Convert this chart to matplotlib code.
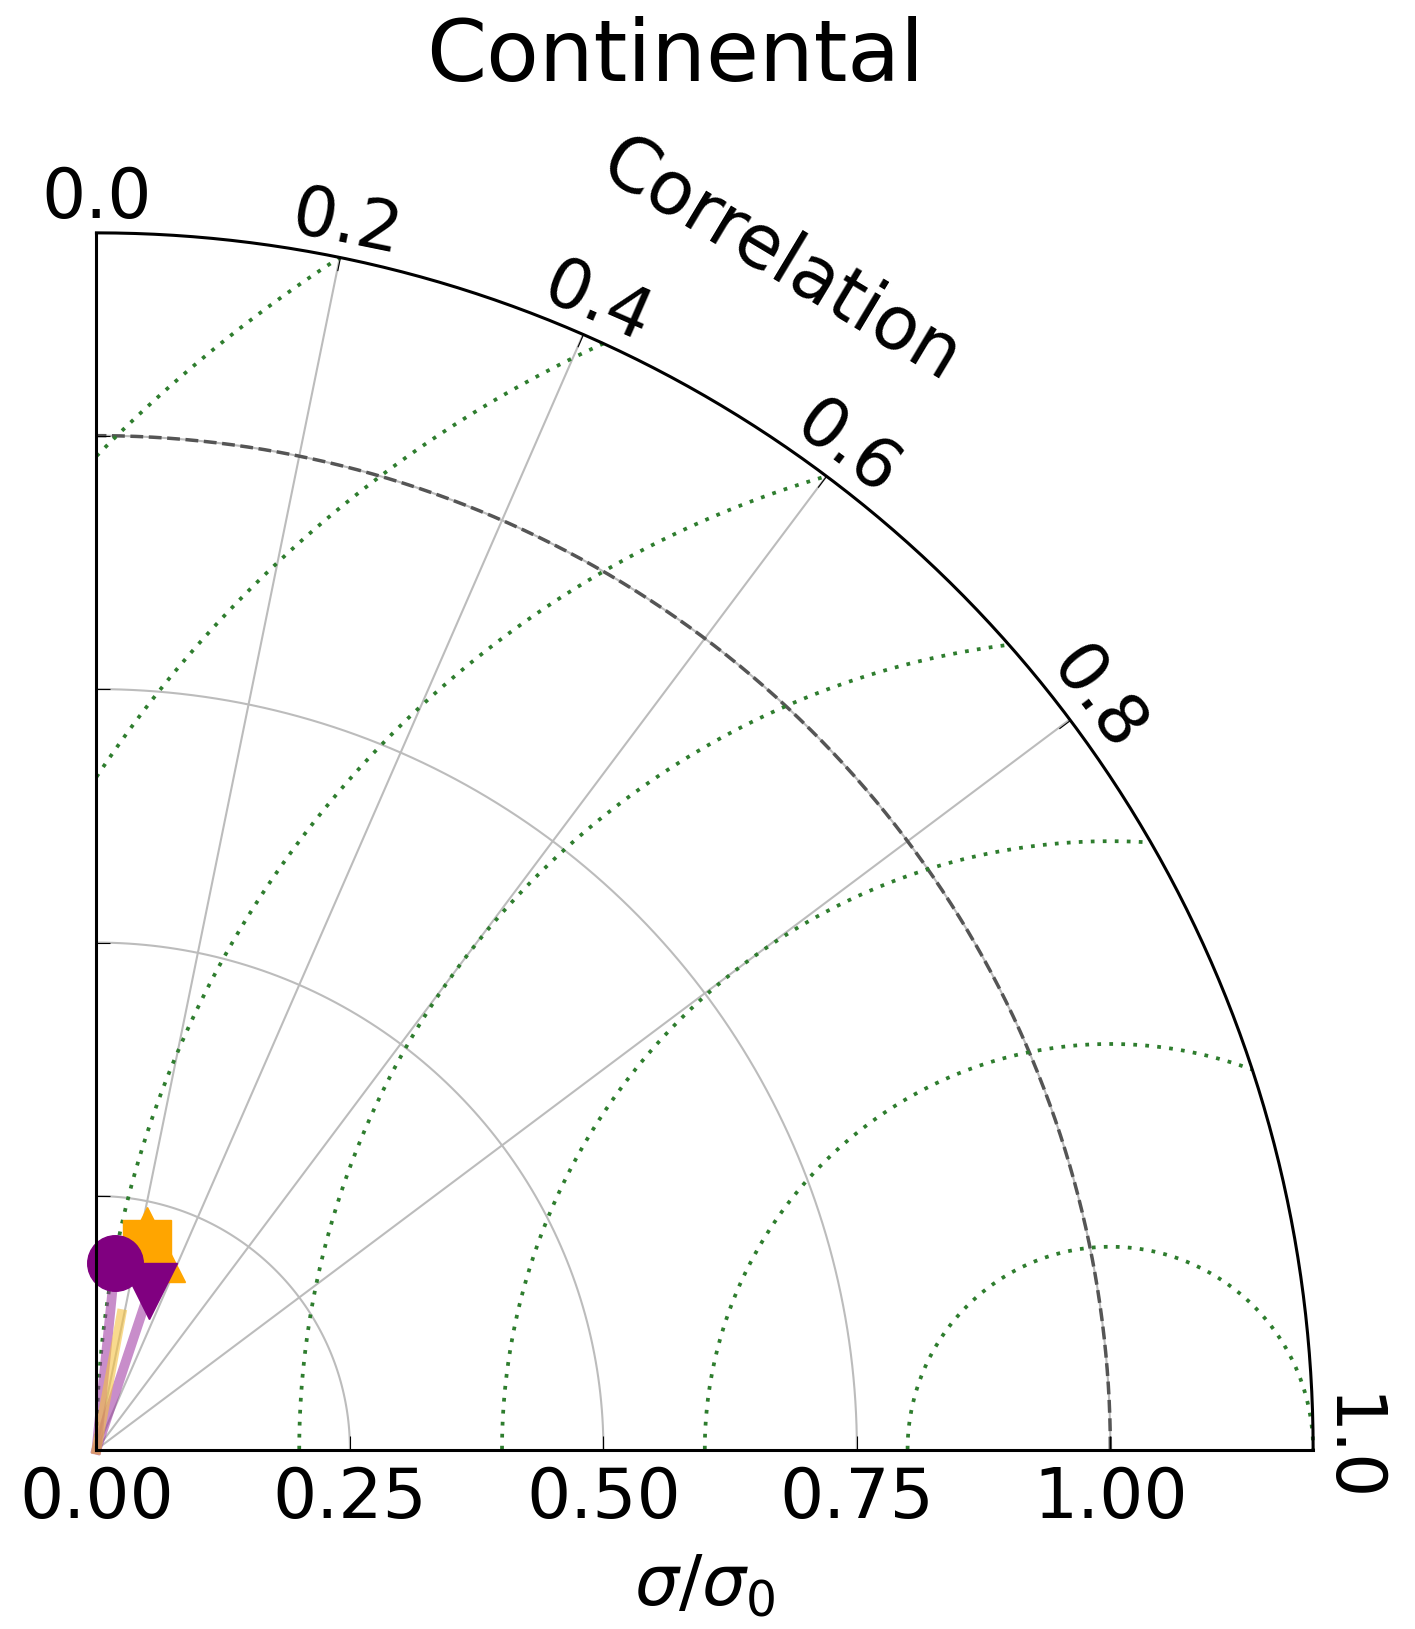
"""Taylor diagram: Continental, std ratio vs correlation."""

import matplotlib

matplotlib.use("Agg")
import matplotlib.pyplot as plt
import mpl_toolkits.axisartist.floating_axes as FA
import mpl_toolkits.axisartist.grid_finder as GF
import numpy as np
from matplotlib.projections import PolarAxes

TITLE = "Continental"
SMAX = 1.2
REF_STD = 1.0
CORR_TICKS = [0.0, 0.2, 0.4, 0.6, 0.8, 1.0]
STD_TICKS = [0.0, 0.25, 0.5, 0.75, 1.0]
RMS_LEVELS = [0.2, 0.4, 0.6, 0.8, 1.0, 1.2, 1.4]

# model points (normalised std, correlation)
purple_std = [0.185, 0.165]
purple_corr = [0.10, 0.316]
orange_std = [0.209]
orange_corr = [0.24]

FS = 50


def main():
    fig = plt.figure(figsize=(14.15, 16.29), dpi=100)

    tr = PolarAxes.PolarTransform(apply_theta_transforms=False)
    tlocs = np.arccos(CORR_TICKS)
    gh = FA.GridHelperCurveLinear(
        tr,
        extremes=(0, np.pi / 2, 0, SMAX),
        grid_locator1=GF.FixedLocator(tlocs),
        tick_formatter1=GF.DictFormatter({t: f"{c:.1f}" for t, c in zip(tlocs, CORR_TICKS)}),
        grid_locator2=GF.FixedLocator(STD_TICKS),
        tick_formatter2=GF.DictFormatter({s: f"{s:.2f}" for s in STD_TICKS}),
    )
    ax = FA.FloatingAxes(fig, [84.3 / 1415, 167.3 / 1629, 1241 / 1415, 1241 / 1629], grid_helper=gh)
    fig.add_axes(ax)

    # correlation arc
    ax.axis["top"].set_axis_direction("bottom")
    ax.axis["top"].toggle(ticklabels=True, label=False)
    ax.axis["top"].major_ticklabels.set_axis_direction("top")
    ax.axis["top"].major_ticklabels.set_fontsize(FS)
    ax.axis["top"].major_ticklabels.set_pad(10)

    # x axis (std)
    ax.axis["left"].set_axis_direction("bottom")
    ax.axis["left"].label.set_text(r"$\sigma/\sigma_0$")
    ax.axis["left"].label.set_fontsize(FS)
    ax.axis["left"].label.set_pad(24)
    ax.axis["left"].major_ticklabels.set_fontsize(FS)
    ax.axis["left"].major_ticklabels.set_pad(12)

    # y axis: ticks only
    ax.axis["right"].set_axis_direction("top")
    ax.axis["right"].toggle(ticklabels=False, label=False)
    ax.axis["bottom"].set_visible(False)

    for side in ("top", "left", "right"):
        ax.axis[side].line.set_linewidth(2.2)
        ax.axis[side].major_ticks.set_ticksize(10)
        ax.axis[side].major_ticks.set_linewidth(2.2)

    ax.grid(True, color="#bcbcbc", linewidth=1.5, linestyle="-")

    pax = ax.get_aux_axes(tr)

    # reference std arc
    t = np.linspace(0, np.pi / 2, 200)
    pax.plot(t, np.full_like(t, REF_STD), "--", color="#555555", lw=2.5)

    # centred RMS contours
    rs, ts = np.meshgrid(np.linspace(0, SMAX, 300), np.linspace(0, np.pi / 2, 300))
    rms = np.sqrt(REF_STD**2 + rs**2 - 2 * REF_STD * rs * np.cos(ts))
    pax.contour(ts, rs, rms, RMS_LEVELS, colors="#2e7d2e", linestyles=[(0, (1, 2.2))], linewidths=2.7)

    # points with faint rays from the origin
    for s, c in zip(purple_std, purple_corr):
        pax.plot([0, np.arccos(c)], [0, s], color="#9b30a0", lw=7, alpha=0.55)
    for s, c in zip(orange_std, orange_corr):
        pax.plot([0, np.arccos(c) + 0.06], [0, s * 0.65], color="#f5c242", lw=7, alpha=0.6)
    pax.plot(np.arccos(orange_corr), orange_std, "^", color="orange", ms=54, clip_on=False)
    pax.plot(np.arccos(orange_corr), orange_std, "s", color="orange", ms=34, clip_on=False)
    pax.plot(np.arccos(purple_corr[:1]), purple_std[:1], "o", color="purple", ms=40, clip_on=False)
    pax.plot(np.arccos(purple_corr[1:]), purple_std[1:], "v", color="purple", ms=40, clip_on=False)

    # correlation axis title along the arc
    fig.text(781 / 1415, 1 - 262 / 1629, "Correlation", ha="center", va="center",
             rotation=-31, rotation_mode="anchor", fontsize=53)

    fig.text(675 / 1415, 1 - 81 / 1629, TITLE, ha="center", va="baseline", fontsize=62)
    fig.savefig("out.png", dpi=100)


if __name__ == "__main__":
    main()
